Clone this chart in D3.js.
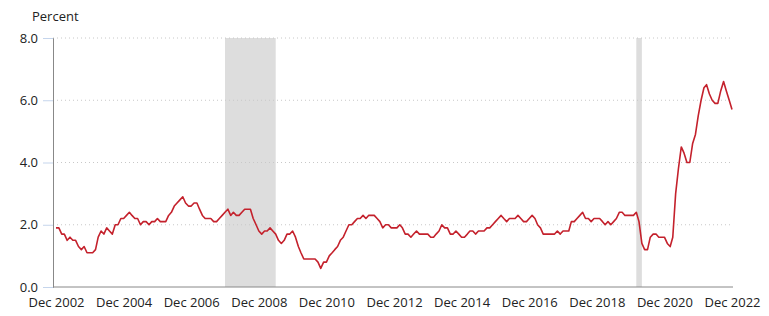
<!DOCTYPE html>
<html>
<head>
<meta charset="utf-8">
<script src="https://cdn.jsdelivr.net/npm/d3@7"></script>
<style>
  body { margin: 0; background: #fff; }
  svg { display: block; font-family: "Open Sans", sans-serif; }
</style>
</head>
<body>
<div id="chart"></div>
<script>
// 12-month percent change, monthly, Dec 2002 .. Dec 2022
const startMonth = new Date(2002, 11, 1);
const values = [
  1.9,
  1.9, 1.7, 1.7, 1.5, 1.6, 1.5, 1.5, 1.3, 1.2, 1.3, 1.1, 1.1,
  1.1, 1.2, 1.6, 1.8, 1.7, 1.9, 1.8, 1.7, 2.0, 2.0, 2.2, 2.2,
  2.3, 2.4, 2.3, 2.2, 2.2, 2.0, 2.1, 2.1, 2.0, 2.1, 2.1, 2.2,
  2.1, 2.1, 2.1, 2.3, 2.4, 2.6, 2.7, 2.8, 2.9, 2.7, 2.6, 2.6,
  2.7, 2.7, 2.5, 2.3, 2.2, 2.2, 2.2, 2.1, 2.1, 2.2, 2.3, 2.4,
  2.5, 2.3, 2.4, 2.3, 2.3, 2.4, 2.5, 2.5, 2.5, 2.2, 2.0, 1.8,
  1.7, 1.8, 1.8, 1.9, 1.8, 1.7, 1.5, 1.4, 1.5, 1.7, 1.7, 1.8,
  1.6, 1.3, 1.1, 0.9, 0.9, 0.9, 0.9, 0.9, 0.8, 0.6, 0.8, 0.8,
  1.0, 1.1, 1.2, 1.3, 1.5, 1.6, 1.8, 2.0, 2.0, 2.1, 2.2, 2.2,
  2.3, 2.2, 2.3, 2.3, 2.3, 2.2, 2.1, 1.9, 2.0, 2.0, 1.9, 1.9,
  1.9, 2.0, 1.9, 1.7, 1.7, 1.6, 1.7, 1.8, 1.7, 1.7, 1.7, 1.7,
  1.6, 1.6, 1.7, 1.8, 2.0, 1.9, 1.9, 1.7, 1.7, 1.8, 1.7, 1.6,
  1.6, 1.7, 1.8, 1.8, 1.7, 1.8, 1.8, 1.8, 1.9, 1.9, 2.0, 2.1,
  2.2, 2.3, 2.2, 2.1, 2.2, 2.2, 2.2, 2.3, 2.2, 2.1, 2.1, 2.2,
  2.3, 2.2, 2.0, 1.9, 1.7, 1.7, 1.7, 1.7, 1.7, 1.8, 1.7, 1.8,
  1.8, 1.8, 2.1, 2.1, 2.2, 2.3, 2.4, 2.2, 2.2, 2.1, 2.2, 2.2,
  2.2, 2.1, 2.0, 2.1, 2.0, 2.1, 2.2, 2.4, 2.4, 2.3, 2.3, 2.3,
  2.3, 2.4, 2.1, 1.4, 1.2, 1.2, 1.6, 1.7, 1.7, 1.6, 1.6, 1.6,
  1.4, 1.3, 1.6, 3.0, 3.8, 4.5, 4.3, 4.0, 4.0, 4.6, 4.9, 5.5,
  6.0, 6.4, 6.5, 6.2, 6.0, 5.9, 5.9, 6.3, 6.6, 6.3, 6.0, 5.7
];
const recessions = [
  [new Date(2007, 11, 1), new Date(2009, 5, 1)],
  [new Date(2020, 1, 1), new Date(2020, 3, 1)]
];
const yTicks = [0, 2, 4, 6, 8];
const xTickYears = [2002, 2004, 2006, 2008, 2010, 2012, 2014, 2016, 2018, 2020, 2022];

const data = values.map((v, i) => ({
  date: d3.timeMonth.offset(startMonth, i),
  value: v
}));

const width = 769;
const height = 316;
const marginLeft = 53;
const marginRight = 36;
const marginTop = 38;
const marginBottom = 29;

const x = d3.scaleTime()
  .domain([startMonth, new Date(2022, 11, 1)])
  .range([56, width - 37]);

const y = d3.scaleLinear()
  .domain([0, 8])
  .range([height - marginBottom, marginTop]);

const svg = d3.create("svg")
  .attr("width", width)
  .attr("height", height);

svg.append("text")
  .attr("x", 32)
  .attr("y", 21)
  .attr("font-size", 13)
  .attr("fill", "#222")
  .text("Percent");

// recession shading
svg.append("g")
  .selectAll("rect")
  .data(recessions)
  .join("rect")
  .attr("x", d => x(d[0]))
  .attr("width", d => Math.max(5, x(d[1]) - x(d[0])))
  .attr("y", y(8))
  .attr("height", y(0) - y(8))
  .attr("fill", "#dddddd");

// gridlines
svg.append("g")
  .selectAll("line")
  .data(yTicks.filter(d => d > 0))
  .join("line")
  .attr("x1", marginLeft)
  .attr("x2", width - marginRight)
  .attr("y1", d => y(d))
  .attr("y2", d => y(d))
  .attr("stroke", "#c8c8c8")
  .attr("stroke-dasharray", "1,3");

// y axis
const yAxis = svg.append("g")
  .attr("transform", `translate(${marginLeft},0)`)
  .call(d3.axisLeft(y).tickValues(yTicks).tickFormat(d3.format(".1f")).tickSize(10).tickPadding(5));
yAxis.select(".domain").attr("stroke", "#888");
yAxis.selectAll(".tick line").attr("stroke", "#c5d5ec");
yAxis.selectAll(".tick text").attr("font-size", 13).attr("fill", "#222").attr("font-family", "Open Sans, sans-serif");

// x axis
const xAxis = svg.append("g")
  .attr("transform", `translate(0,${y(0)})`)
  .call(d3.axisBottom(x)
    .tickValues(xTickYears.map(yr => new Date(yr, 11, 1)))
    .tickFormat(d3.timeFormat("Dec %Y"))
    .tickSize(0)
    .tickPadding(8)
    .tickSizeOuter(0));
xAxis.select(".domain")
  .attr("d", `M${marginLeft},0H${width - marginRight}`)
  .attr("stroke", "#888");
xAxis.selectAll(".tick text")
  .attr("y", 11)
  .attr("font-size", 13)
  .attr("fill", "#222")
  .attr("font-family", "Open Sans, sans-serif");

// series line
const line = d3.line()
  .x(d => x(d.date))
  .y(d => y(d.value));

svg.append("path")
  .datum(data)
  .attr("fill", "none")
  .attr("stroke", "#c4212c")
  .attr("stroke-width", 1.6)
  .attr("stroke-linejoin", "round")
  .attr("d", line);

document.getElementById("chart").appendChild(svg.node());
</script>
</body>
</html>
